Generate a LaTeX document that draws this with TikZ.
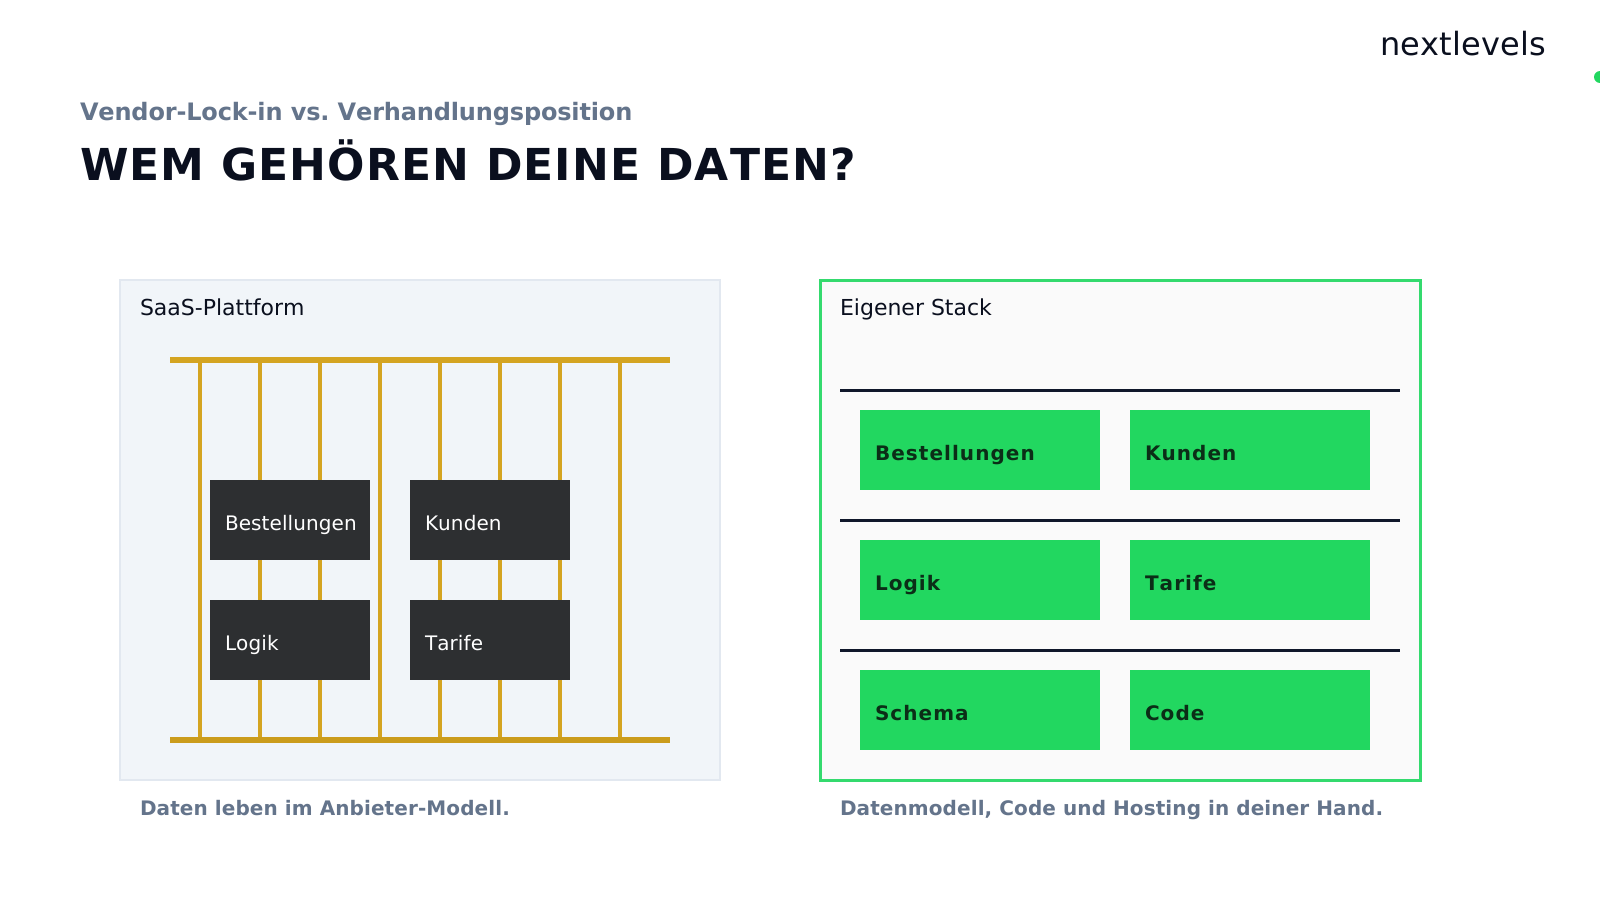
\documentclass[tikz,border=0pt]{standalone}
\usepackage{fontspec}
\usetikzlibrary{calc}
\setmainfont[Kerning=Off]{DejaVu Sans}
\newfontfamily\spaced[LetterSpace=5.3,Kerning=Off]{DejaVu Sans}
\newfontfamily\titlefont[LetterSpace=2.7,Kerning=Off]{DejaVu Sans}
\newfontfamily\notefont[LetterSpace=0.5,Kerning=Off]{DejaVu Sans}
\newfontfamily\logofont[LetterSpace=0.6,Kerning=Off]{DejaVu Sans}
\newfontfamily\subfont[LetterSpace=-0.65,Kerning=Off]{DejaVu Sans}
\frenchspacing
\definecolor{ink}{HTML}{0A0F1E}
\definecolor{rulec}{HTML}{0F172A}
\definecolor{slatec}{HTML}{64748B}
\definecolor{panelfill}{HTML}{F1F5F9}
\definecolor{panelline}{HTML}{E2E8F0}
\definecolor{ownfill}{HTML}{FAFAFA}
\definecolor{lime}{HTML}{22D760}
\definecolor{limeline}{HTML}{34DA6E}
\definecolor{gold}{HTML}{D4A421}
\definecolor{goldd}{HTML}{CB9C1C}
\definecolor{lockbox}{HTML}{2D2F31}
\definecolor{limetext}{HTML}{0B2E17}
\tikzset{
  x=1pt,y=-1pt,
  txt/.style={anchor=base west,inner sep=0pt,outer sep=0pt},
  lockcell/.style={draw=none,fill=lockbox,minimum width=160pt,minimum height=80pt,anchor=north west,inner sep=0pt},
  owncell/.style={draw=none,fill=lime,minimum width=240pt,minimum height=80pt,anchor=north west,inner sep=0pt},
  locktxt/.style={txt,text=white,font=\fontsize{20}{24}\notefont},
  owntxt/.style={txt,text=limetext,font=\fontsize{20}{24}\spaced\bfseries},
  paneltxt/.style={txt,text=ink,font=\fontsize{22}{26}\selectfont},
  notetxt/.style={txt,text=slatec,font=\fontsize{20}{24}\notefont\bfseries},
  bar/.style={line width=6pt},
  rod/.style={draw=gold,line width=4pt},
  rule/.style={draw=rulec,line width=3pt},
}
\begin{document}
\begin{tikzpicture}
\useasboundingbox (0,0) rectangle (1600,900);
\fill[white] (0,0) rectangle (1600,900);
\fill[lime] (1600,77) circle (6);
\node[txt,text=ink,font=\fontsize{32}{38}\logofont] (logo) at (1380,55) {nextlevels};
\node[txt,text=slatec,font=\fontsize{24}{29}\subfont\bfseries] (sub) at (80,120) {Vendor-Lock-in vs. Verhandlungsposition};
\node[txt,text=ink,font=\fontsize{44}{52}\titlefont\bfseries] (title) at (80,180) {WEM GEHÖREN DEINE DATEN?};
% left panel
\draw[fill=panelfill,draw=panelline,line width=2pt] (120,280) rectangle (720,780);
\node[paneltxt] (lefthead) at (140,315) {SaaS-Plattform};
\foreach \x in {200,260,...,620} \draw[rod] (\x,360) -- (\x,740);
\draw[bar,draw=gold] (170,360) -- (670,360);
\draw[bar,draw=goldd] (170,740) -- (670,740);
\node[lockcell] (a1) at (210,480) {};
\node[lockcell] (a2) at (410,480) {};
\node[lockcell] (a3) at (210,600) {};
\node[lockcell] (a4) at (410,600) {};
\node[locktxt] (a1t) at (225,530) {Bestellungen};
\node[locktxt] (a2t) at (425,530) {Kunden};
\node[locktxt] (a3t) at (225,650) {Logik};
\node[locktxt] (a4t) at (425,650) {Tarife};
\node[notetxt] (leftnote) at (140,815) {Daten leben im Anbieter-Modell.};
% right panel
\draw[fill=ownfill,draw=limeline,line width=3pt] (820,280) rectangle (1420,780);
\node[paneltxt] (righthead) at (840,315) {Eigener Stack};
\foreach \y in {390,520,650} \draw[rule] (840,\y) -- (1400,\y);
\foreach \n/\x/\y/\t in {b1/860/410/Bestellungen,b2/1130/410/Kunden,b3/860/540/Logik,b4/1130/540/Tarife,b5/860/670/Schema,b6/1130/670/Code}{
  \node[owncell] (\n) at (\x,\y) {};
  \node[owntxt] (\n t) at ($(\x,\y)+(15,50)$) {\t};
}
\node[notetxt] (rightnote) at (840,815) {Datenmodell, Code und Hosting in deiner Hand.};
\end{tikzpicture}
\end{document}
